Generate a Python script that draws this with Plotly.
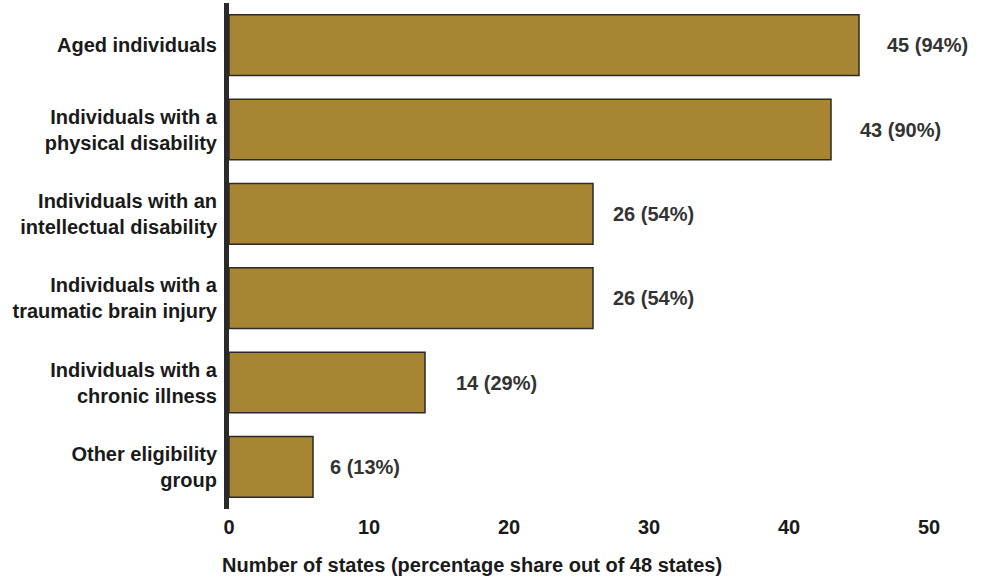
import plotly.graph_objects as go

categories = [
    "Aged individuals",
    "Individuals with a<br>physical disability",
    "Individuals with an<br>intellectual disability",
    "Individuals with a<br>traumatic brain injury",
    "Individuals with a<br>chronic illness",
    "Other eligibility<br>group",
]
states = [45, 43, 26, 26, 14, 6]
shares = [94, 90, 54, 54, 29, 13]
label_offsets_px = [26, 27, 18, 18, 29, 15]

x_ticks = [0, 10, 20, 30, 40, 50]
x_title = "Number of states (percentage share out of 48 states)"

FONT = "Liberation Sans, Arial, Helvetica, sans-serif"
BAR = "#A88532"
DARK = "#2a2a2a"
TXT = "#1a1a1a"
FS = 20

fig = go.Figure()
fig.add_trace(go.Bar(
    y=categories,
    x=states,
    orientation="h",
    marker=dict(color=BAR, line=dict(color=DARK, width=1.5)),
    hoverinfo="skip",
))

for cat, v, s, off in zip(categories, states, shares, label_offsets_px):
    fig.add_annotation(
        x=v, y=cat, xref="x", yref="y",
        text=f"{v} ({s}%)",
        showarrow=False, xanchor="left", yanchor="middle",
        xshift=off,
        font=dict(family=FONT, size=FS, color="#333333", weight="bold"),
    )

fig.add_annotation(
    x=0.5, y=-56 / 506, xref="paper", yref="paper",
    text=x_title, showarrow=False, xanchor="center", yanchor="middle",
    xshift=-(229 + 350 - 472),
    font=dict(family=FONT, size=FS, color=TXT, weight="bold"),
)

fig.update_layout(
    width=985, height=577,
    margin=dict(l=229, r=56, t=3, b=68, autoexpand=False),
    paper_bgcolor="white", plot_bgcolor="white",
    showlegend=False,
    bargap=0.28,
    font=dict(family=FONT, size=FS, color=TXT, weight="bold"),
)
fig.update_xaxes(
    range=[0, 50],
    tickvals=x_ticks,
    automargin=False,
    showgrid=False, zeroline=False, showline=False,
    ticks="", ticklabelstandoff=4,
    tickfont=dict(family=FONT, size=FS, color=TXT, weight="bold"),
)
fig.update_yaxes(
    autorange="reversed",
    automargin=False,
    showgrid=False, zeroline=False,
    showline=True, linecolor=DARK, linewidth=5,
    ticks="outside", ticklen=3, tickcolor="rgba(0,0,0,0)",
    tickfont=dict(family=FONT, size=FS, color=TXT, weight="bold"),
)

fig.write_html(
    "out.html",
    config={"displayModeBar": False},
    post_script="document.body.style.margin='0';document.body.style.overflow='hidden';",
)
